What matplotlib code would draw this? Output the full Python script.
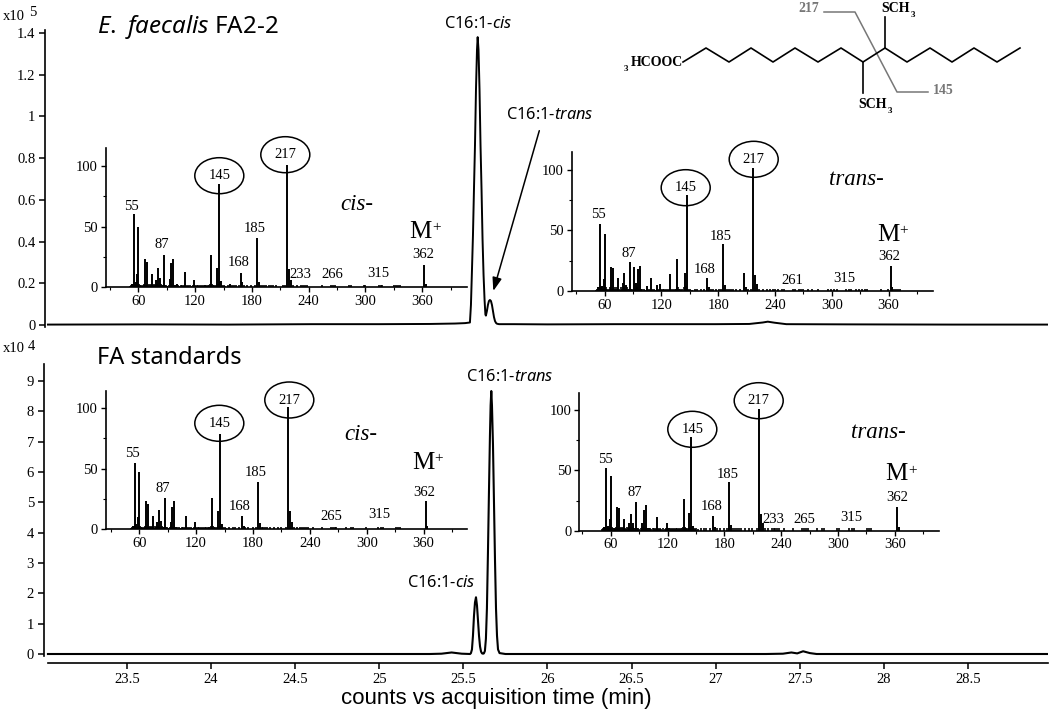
import matplotlib
matplotlib.use("Agg")
import matplotlib.pyplot as plt
from matplotlib.patches import Ellipse

W, H = 1050, 709

plt.rcParams['font.family'] = ['Liberation Serif', 'DejaVu Serif']
plt.rcParams['mathtext.fontset'] = 'custom'
plt.rcParams['mathtext.rm'] = 'Noto Sans'
plt.rcParams['mathtext.it'] = 'Noto Sans:italic'
plt.rcParams['mathtext.bf'] = 'Noto Sans:bold'

# cromatograma superior (x10^5)
top_time = [23.03, 23.6, 24.1, 24.6, 25.0, 25.3, 25.45, 25.51, 25.539, 25.545, 25.551, 25.557, 25.563, 25.569, 25.575,
            25.581, 25.585, 25.590, 25.596, 25.602, 25.608, 25.614, 25.620, 25.626, 25.631, 25.634,
            25.640, 25.646, 25.652, 25.658, 25.664, 25.670, 25.676, 25.682, 25.688, 25.694, 25.700, 25.712,
            25.80, 26.0, 26.4, 27.0, 27.2, 27.28, 27.31, 27.35, 27.42, 27.8, 28.4, 28.976]
top_counts = [0.002, 0.003, 0.002, 0.004, 0.004, 0.005, 0.007, 0.009, 0.012, 0.096, 0.26, 0.43, 0.65, 0.86, 1.13,
              1.32, 1.38, 1.32, 1.13, 0.86, 0.65, 0.41, 0.24, 0.12, 0.05, 0.045,
              0.067, 0.096, 0.115, 0.12, 0.115, 0.096, 0.067, 0.038, 0.019, 0.01, 0.006, 0.004,
              0.004, 0.003, 0.004, 0.004, 0.005, 0.012, 0.016, 0.011, 0.004, 0.003, 0.002, 0.002]

# cromatograma inferior (x10^4)
bot_time = [23.03, 24.5, 25.3, 25.37, 25.40, 25.43, 25.46, 25.49, 25.54, 25.545, 25.551, 25.557, 25.563, 25.569,
            25.575, 25.581, 25.587, 25.593, 25.599, 25.605, 25.611, 25.617, 25.622,
            25.628, 25.634, 25.640, 25.646, 25.652, 25.658, 25.662, 25.666, 25.670, 25.676,
            25.682, 25.688, 25.694, 25.700, 25.706, 25.715, 25.75, 26.4, 27.3, 27.40, 27.45, 27.485, 27.52, 27.56, 27.60, 28.976]
bot_counts = [0.0, 0.0, 0.0, 0.01, 0.03, 0.05, 0.03, 0.01, 0.0, 0.03, 0.15, 0.6, 1.25, 1.7,
              1.87, 1.6, 1.1, 0.6, 0.25, 0.08, 0.02, 0.01, 0.02,
              0.1, 0.5, 1.5, 3.3, 5.3, 7.2, 8.2, 8.67, 8.2, 6.9,
              5.0, 3.1, 1.5, 0.6, 0.15, 0.03, 0.0, 0.0, 0.0, 0.01, 0.05, 0.02, 0.09, 0.03, 0.0, 0.0]

time_ticks = [23.5, 24, 24.5, 25, 25.5, 26, 26.5, 27, 27.5, 28, 28.5]
time_labels = ['23.5', '24', '24.5', '25', '25.5', '26', '26.5', '27', '27.5', '28', '28.5']
top_yticks = [0, 0.2, 0.4, 0.6, 0.8, 1, 1.2, 1.4]
top_ylabels = ['0', '0.2', '0.4', '0.6', '0.8', '1', '1.2', '1.4']
bot_yticks = [0, 1, 2, 3, 4, 5, 6, 7, 8, 9]

# espectros de masas: picos principales
cis_a_mz = [53, 55, 57, 59, 60, 67, 69, 74, 79, 81, 83, 87, 93, 95, 97, 101, 109, 119, 137, 143, 145, 147, 157, 168, 170, 185, 187, 217, 219, 221, 362, 364]
cis_a_int = [3, 60, 4, 11, 50, 23, 21, 11, 6, 16, 8, 27, 7, 20, 23, 3, 13, 6, 27, 16, 85, 5, 3, 12, 4, 41, 4, 101, 15, 6, 18, 3]
trans_a_mz = [53, 55, 57, 59, 60, 67, 69, 74, 79, 81, 83, 87, 91, 93, 95, 97, 105, 109, 115, 119, 129, 137, 145, 147, 168, 170, 185, 187, 207, 209, 217, 219, 221, 362, 364]
trans_a_int = [3, 55, 4, 10, 47, 20, 19, 11, 7, 15, 5, 24, 20, 7, 18, 21, 4, 11, 5, 6, 14, 26, 15, 79, 11, 3, 39, 5, 15, 3, 101, 13, 6, 21, 3]
cis_b_mz = [53, 55, 57, 59, 60, 67, 69, 74, 79, 81, 83, 87, 93, 95, 97, 109, 119, 137, 143, 145, 147, 168, 170, 185, 187, 217, 219, 221, 362, 364]
cis_b_int = [3, 55, 4, 10, 47, 23, 21, 11, 6, 16, 7, 26, 6, 18, 23, 11, 6, 26, 15, 79, 4, 11, 3, 39, 5, 101, 15, 6, 23, 3]
trans_b_mz = [53, 55, 57, 59, 60, 67, 69, 74, 79, 81, 83, 87, 93, 95, 97, 109, 119, 137, 143, 145, 147, 168, 170, 185, 187, 217, 219, 221, 362, 364]
trans_b_int = [3, 52, 4, 10, 45, 20, 19, 10, 6, 14, 6, 24, 6, 17, 21, 11, 6, 26, 15, 78, 4, 12, 3, 40, 5, 101, 14, 6, 20, 3]

# picos pequenos (ruido de fondo leido a ojo)
low_mz = [51, 52, 54, 56, 58, 61, 62, 63, 64, 65, 66, 68, 70, 71, 72, 73, 75, 76, 77, 78, 80, 82, 84, 85, 86, 88, 89, 90,
          92, 94, 96, 98, 99, 100, 102, 103, 105, 106, 107, 108, 110, 111, 112, 113, 115, 117, 118, 120, 121, 122, 123,
          124, 125, 126, 127, 128, 129, 130, 131, 132, 133, 134, 135, 136, 138, 139, 140, 141, 142, 144, 146, 148, 149, 150, 152]
low_int = [1, 2, 3, 3, 2, 3, 2, 2, 1, 2, 3, 2, 2, 3, 2, 3, 2, 1, 3, 2, 3, 2, 3, 2, 2, 2, 2, 1,
           2, 3, 2, 2, 2, 2, 2, 1, 2, 2, 1, 2, 2, 1, 2, 1, 2, 1, 2, 2, 1, 2, 2,
           1, 2, 1, 2, 1, 2, 2, 1, 2, 1, 2, 2, 3, 3, 2, 2, 1, 2, 3, 4, 2, 1, 2, 1]
cis_a_noise = [155, 159, 161, 163, 166, 172, 175, 179, 183, 189, 191, 193, 195, 198, 200, 202, 205, 213, 215, 223, 228, 232, 234, 236, 238, 254, 264, 266, 268, 283, 285, 298, 300, 314, 316, 318, 330, 332, 334, 336]
trans_a_noise = [155, 158, 162, 165, 172, 175, 178, 181, 183, 189, 191, 193, 196, 199, 203, 211, 215, 223, 227, 232, 235, 238, 240, 243, 247, 250, 259, 261, 265, 267, 270, 275, 279, 285, 296, 299, 302, 305, 315, 318, 320, 326, 329, 332, 335, 337, 352, 359, 366, 368, 370, 372]
cis_b_noise = [155, 159, 161, 165, 172, 175, 180, 183, 189, 191, 193, 195, 198, 202, 206, 209, 215, 223, 226, 230, 232, 234, 236, 238, 243, 253, 262, 264, 266, 268, 278, 283, 285, 299, 312, 315, 317, 331, 333, 335]
trans_b_noise = [155, 159, 161, 165, 172, 175, 180, 183, 189, 191, 193, 195, 198, 202, 206, 209, 215, 223, 226, 230, 232, 234, 236, 238, 243, 253, 262, 264, 266, 268, 278, 283, 285, 299, 301, 312, 315, 317, 331, 333, 335]
noise_level = 2

mz_ticks = [60, 120, 180, 240, 300, 360]
mz_minor = [90, 150, 210, 270, 330, 390, 30]
rel_ticks = [0, 50, 100]
rel_minor = [25, 75]

# estructura quimica (pixeles del dibujo)
chain_x = [683, 706, 729, 751, 773, 795, 818, 841, 863, 885, 907, 930, 952, 974, 997, 1020]
chain_y = [62, 48, 62, 48, 62, 48, 62, 48, 62, 48, 62, 48, 62, 48, 62, 48]
frag_x = [824, 855, 897, 928]
frag_y = [12, 12, 92, 92]


def ejes_px(left, top, right, bottom):
    # crea ejes a partir de coordenadas en pixeles
    ax = fig.add_axes([left / W, 1 - bottom / H, (right - left) / W, (bottom - top) / H])
    ax.patch.set_alpha(0)
    return ax


def espectro(caja, xlim, ytop, mz, inten, ruido):
    ax = ejes_px(*caja)
    ax.vlines(low_mz, 0, low_int, color='black', lw=1.2)
    ax.vlines(ruido, 0, noise_level, color='black', lw=1.2)
    ax.vlines(mz, 0, inten, color='black', lw=1.4)
    ax.set_xlim(*xlim)
    ax.set_ylim(0, ytop)
    ax.spines['top'].set_visible(False)
    ax.spines['right'].set_visible(False)
    ax.spines['left'].set_linewidth(1.2)
    ax.spines['bottom'].set_linewidth(1.2)
    ax.set_xticks(mz_ticks)
    ax.set_xticks(mz_minor, minor=True)
    ax.set_yticks(rel_ticks)
    ax.set_yticks(rel_minor, minor=True)
    ax.tick_params(axis='both', which='major', length=3.5, width=1, labelsize=10.5, pad=2)
    ax.tick_params(axis='both', which='minor', length=2, width=0.8)
    return ax


fig = plt.figure(figsize=(W / 100, H / 100), dpi=100)

# traza superior
ax1 = ejes_px(45, 30, 1048, 327)
ax1.plot(top_time, top_counts, color='black', lw=1.4)
ax1.set_xlim(23.0125, 28.976)
ax1.set_ylim(-2 / 208.6, 295 / 208.6)
ax1.set_yticks(top_yticks)
ax1.set_yticklabels(top_ylabels)
ax1.set_xticks([])
ax1.spines['top'].set_visible(False)
ax1.spines['right'].set_visible(False)
ax1.spines['bottom'].set_visible(False)
ax1.spines['left'].set_linewidth(1.2)
ax1.tick_params(axis='y', length=4, width=1.1, labelsize=10.5, pad=3)

# traza inferior, con el eje de tiempo
ax2 = ejes_px(43.7, 364, 1048, 656)
ax2.plot(bot_time, bot_counts, color='black', lw=1.5)
ax2.set_xlim(23.0125 - 1.3 / 168.2, 28.976)
ax2.set_ylim(-2 / 30.33, 290 / 30.33)
ax2.set_yticks(bot_yticks)
ax2.set_xticks(time_ticks)
ax2.set_xticklabels(time_labels)
ax2.spines['top'].set_visible(False)
ax2.spines['right'].set_visible(False)
ax2.spines['left'].set_linewidth(1.2)
ax2.spines['bottom'].set_linewidth(1.2)
ax2.spines['bottom'].set_position(('outward', 5))
ax2.spines['bottom'].set_bounds(23.03, 28.976)
ax2.tick_params(axis='y', length=4, width=1.1, labelsize=10.5, pad=3)
ax2.tick_params(axis='x', length=4, width=1.1, labelsize=10.5, pad=3)

# insertos con los espectros
espectro((105.7, 148, 466.7, 287.3), (25.5, 407), 114.8, cis_a_mz, cis_a_int, cis_a_noise)
espectro((571.7, 152, 932.7, 291), (25.3, 406.5), 114.6, trans_a_mz, trans_a_int, trans_a_noise)
espectro((105.7, 390.7, 466.7, 529.3), (24.6, 405.4), 114.3, cis_b_mz, cis_b_int, cis_b_noise)
espectro((579, 393, 939.3, 530.7), (26.5, 407), 114.1, trans_b_mz, trans_b_int, trans_b_noise)

# capa superior en pixeles para textos y anotaciones
ov = fig.add_axes([0, 0, 1, 1])
ov.set_xlim(0, W)
ov.set_ylim(H, 0)
ov.axis('off')


def txt(x, y, s, **kw):
    kw.setdefault('ha', 'center')
    kw.setdefault('va', 'center')
    ov.text(x, y, s, **kw)


pico_labels = [
    ('55', 131.7, 206), ('87', 162, 244), ('168', 238.7, 262.7), ('185', 254.7, 228.3), ('233', 300.7, 274.7),
    ('266', 332.3, 274.7), ('315', 378.3, 273.3), ('362', 423.3, 255),
    ('55', 598, 215), ('87', 628.3, 253.3), ('168', 705, 269.3), ('185', 721, 236), ('261', 792.7, 280),
    ('315', 844.3, 278.7), ('362', 889.3, 257),
    ('55', 132.7, 453.3), ('87', 163, 488.7), ('168', 239.3, 506), ('185', 255.3, 473), ('265', 331.7, 516.7),
    ('315', 379, 515), ('362', 424, 492.7),
    ('55', 605, 459.3), ('87', 635, 492.7), ('168', 711.7, 507), ('185', 727.7, 474.3), ('233', 773.3, 519.3),
    ('265', 804, 519.3), ('315', 851.3, 517.3), ('362', 896.7, 497.7),
]
for s, x, y in pico_labels:
    txt(x, y, s, fontsize=10.5)

circulos = [
    ('145', 219.3, 175.7), ('217', 285.3, 154.7), ('145', 685.7, 187.7), ('217', 753.7, 159.3),
    ('145', 219.3, 423.3), ('217', 289.3, 400), ('145', 692.3, 429.3), ('217', 758.7, 400.7),
]
for s, x, y in circulos:
    ov.add_patch(Ellipse((x, y), 49, 36, fill=True, facecolor='none', edgecolor='black', lw=1.1))
    txt(x, y, s, fontsize=10.5)

for s, x, y in [('cis-', 356.7, 205), ('trans-', 856, 179.3), ('cis-', 361, 434.3), ('trans-', 878.3, 432.3)]:
    txt(x, y, s, fontsize=16.5, style='italic')

for x, y in [(420.7, 231.7), (888, 235), (423, 463), (896.7, 474.3)]:
    txt(x, y, 'M', fontsize=18)
    txt(x + 16, y - 4, '+', fontsize=11)

txt(3, 16, 'x10', fontsize=10.5, ha='left')
txt(33, 12, '5', fontsize=10.5)
txt(3, 349, 'x10', fontsize=10.5, ha='left')
txt(31, 346, '4', fontsize=10.5)

sans = ['Noto Sans', 'DejaVu Sans']
txt(97, 27, r'$\mathit{E.\ faecalis}$ FA2-2', fontsize=17.4, ha='left', family=sans)
txt(97, 358, 'FA standards', fontsize=17, ha='left', family=sans)
txt(478, 24, r'C16:1-$\mathit{cis}$', fontsize=11.8, family=sans)
txt(549.5, 115, r'C16:1-$\mathit{trans}$', fontsize=11.8, family=sans)
txt(509.5, 377, r'C16:1-$\mathit{trans}$', fontsize=11.8, family=sans)
txt(441.5, 583, r'C16:1-$\mathit{cis}$', fontsize=11.8, family=sans)

ov.annotate('', xy=(493.3, 291), xytext=(539.3, 130.7),
            arrowprops=dict(arrowstyle='-|>,head_length=0.8,head_width=0.28', color='black', lw=1.1, shrinkA=0, shrinkB=0))

txt(496.5, 698.5, 'counts vs acquisition time (min)', fontsize=16, family=['Liberation Sans', 'DejaVu Sans'])

# molecula
ov.plot(frag_x, frag_y, color='#777777', lw=1.1)
ov.plot(chain_x, chain_y, color='black', lw=1.2)
ov.plot([863, 863], [62, 93], color='black', lw=1.2)
ov.plot([885, 885], [48, 17], color='black', lw=1.2)
txt(809, 9, '217', fontsize=10, weight='bold', color='#777777')
txt(943, 90, '145', fontsize=10, weight='bold', color='#777777')
txt(683, 62, 'HCOOC', fontsize=10, weight='bold', ha='right')
txt(626, 69, '3', fontsize=6.5, weight='bold')
txt(873, 105, 'SCH', fontsize=10, weight='bold')
txt(890, 111, '3', fontsize=6.5, weight='bold')
txt(896, 8, 'SCH', fontsize=10, weight='bold')
txt(913, 15, '3', fontsize=6.5, weight='bold')

fig.savefig('out.png', dpi=100)
